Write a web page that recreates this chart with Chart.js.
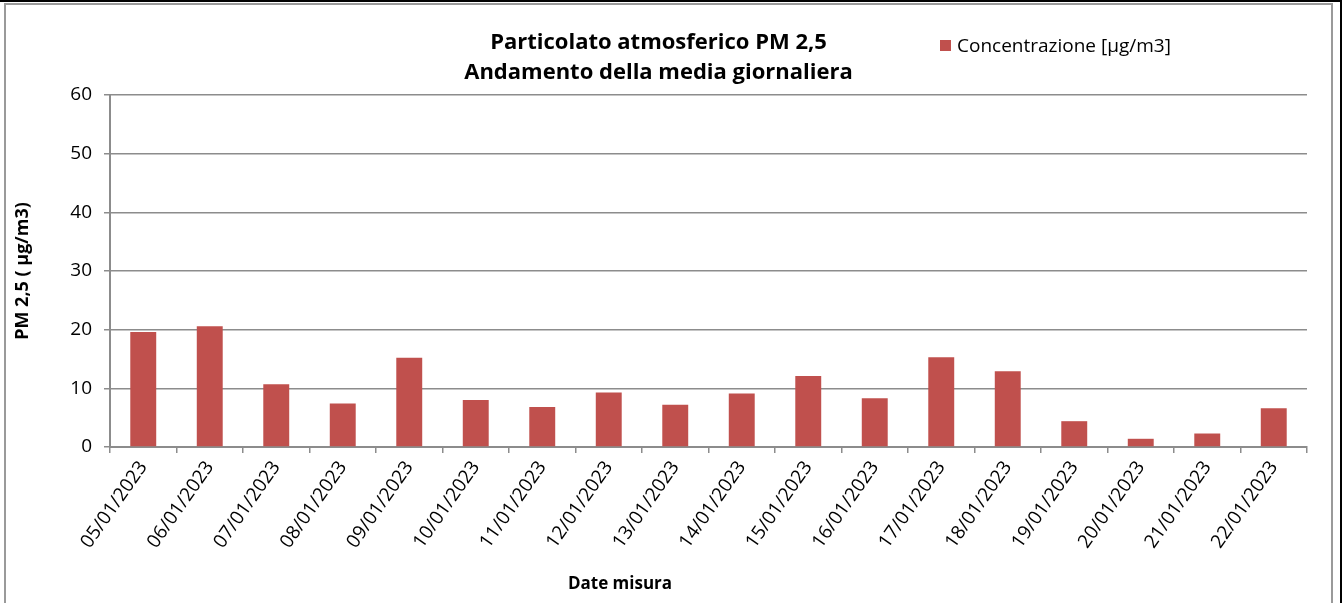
<!DOCTYPE html>
<html lang="it">
<head>
  <meta charset="UTF-8">
  <title>Particolato atmosferico PM 2,5</title>
  <style>
    html, body { margin: 0; padding: 0; background: #fff; overflow: hidden; }
    .frame-outer { position: absolute; left: 0; top: 0; width: 1340px; height: 700px; border-top: 2px solid #000; border-right: 2px solid #000; }
    .frame-inner { position: absolute; left: 4px; top: 3px; width: 1325px; height: 700px; border: 2px solid #9a9a9a; }
    .chart-box { position: absolute; left: 0; top: 0; width: 1344px; height: 603px; }
    .legend { position: absolute; left: 940px; top: 32px; font: 19px "Open Sans", sans-serif; color: #000; display: flex; align-items: center; }
    .legend span.sw { display: inline-block; width: 11px; height: 11px; background: #C0504D; margin-right: 6px; }
    .x-title { position: absolute; left: 520px; width: 200px; top: 571px; text-align: center; font: bold 17px "Open Sans", sans-serif; color: #000; }
  </style>
</head>
<body>
  <div class="frame-outer"></div>
  <div class="frame-inner"></div>
  <div class="chart-box"><canvas id="pmChart"></canvas></div>
  <div class="legend"><span class="sw"></span>Concentrazione [µg/m3]</div>
  <div class="x-title">Date misura</div>

  <script src="https://cdn.jsdelivr.net/npm/chart.js"></script>
  <script>
    // dati
    const dates = [
      '05/01/2023', '06/01/2023', '07/01/2023', '08/01/2023', '09/01/2023', '10/01/2023',
      '11/01/2023', '12/01/2023', '13/01/2023', '14/01/2023', '15/01/2023', '16/01/2023',
      '17/01/2023', '18/01/2023', '19/01/2023', '20/01/2023', '21/01/2023', '22/01/2023'
    ];
    const pm25 = [19.6, 20.6, 10.7, 7.4, 15.2, 8.0, 6.8, 9.3, 7.2, 9.1, 12.1, 8.3, 15.3, 12.9, 4.4, 1.4, 2.3, 6.6];
    const yTicks = [0, 10, 20, 30, 40, 50, 60];

    const gridGray = '#8c8c8c';

    const config = {
      type: 'bar',
      data: {
        labels: dates,
        datasets: [{
          label: 'Concentrazione [µg/m3]',
          data: pm25,
          backgroundColor: '#C0504D',
          borderWidth: 0,
          categoryPercentage: 1,
          barPercentage: 0.39
        }]
      },
      options: {
        responsive: true,
        maintainAspectRatio: false,
        animation: false,
        layout: { padding: { left: 10, right: 37, top: 0, bottom: 0 } },
        plugins: {
          legend: { display: false },
          tooltip: { enabled: false },
          title: {
            display: true,
            text: ['Particolato atmosferico PM 2,5', 'Andamento della media giornaliera'],
            color: '#000',
            font: { family: 'Open Sans', size: 22, weight: 'bold', lineHeight: 1.364 },
            padding: { top: 28, bottom: 7 }
          }
        },
        scales: {
          x: {
            grid: { offset: true, drawOnChartArea: false, drawTicks: true, tickLength: 6, color: gridGray, lineWidth: 1.5 },
            border: { color: gridGray, width: 2 },
            ticks: {
              color: '#000',
              font: { family: 'Open Sans', size: 19 },
              minRotation: 55,
              maxRotation: 55,
              autoSkip: false,
              padding: 4
            },
            afterFit: (s) => { s.height = 156; }
          },
          y: {
            min: 0,
            max: 60,
            afterBuildTicks: (s) => { s.ticks = yTicks.map(v => ({ value: v })); },
            grid: { color: gridGray, lineWidth: 1.5, drawTicks: true, tickLength: 6 },
            border: { color: gridGray, width: 2 },
            ticks: {
              color: '#000',
              font: { family: 'Open Sans', size: 19 },
              padding: 12
            },
            title: {
              display: true,
              text: 'PM 2,5 ( µg/m3)',
              color: '#000',
              font: { family: 'Open Sans', size: 18, weight: 'bold' },
              padding: { top: 2, bottom: 0 }
            },
            afterFit: (s) => { s.width = 100; }
          }
        }
      }
    };

    const pmChart = new Chart(document.getElementById('pmChart'), config);
  </script>
</body>
</html>
